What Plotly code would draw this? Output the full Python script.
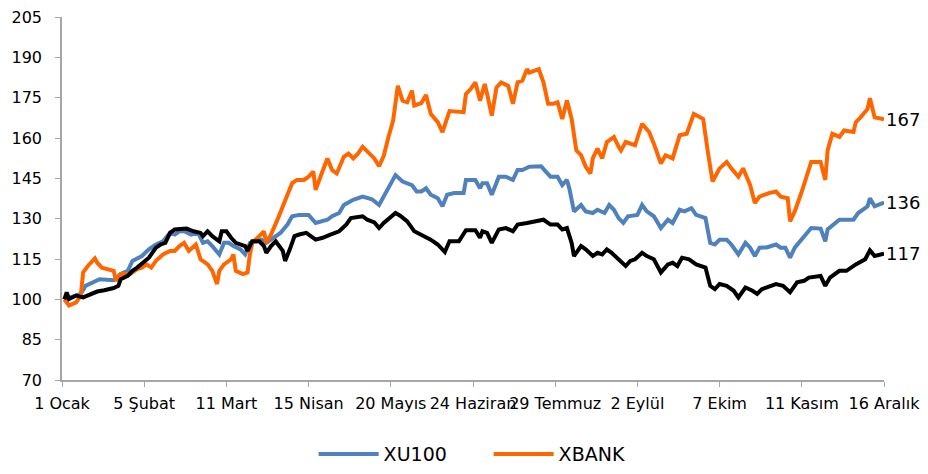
import plotly.graph_objects as go

# ---- data ----
xbank_dates = ["2024-01-02","2024-01-04","2024-01-07","2024-01-09","2024-01-10","2024-01-12","2024-01-15","2024-01-16","2024-01-18","2024-01-20",
               "2024-01-23","2024-01-24","2024-01-26","2024-01-30","2024-02-02","2024-02-04","2024-02-06","2024-02-08","2024-02-10","2024-02-13",
               "2024-02-16","2024-02-18","2024-02-20","2024-02-22","2024-02-24","2024-02-27","2024-02-29","2024-03-03","2024-03-05","2024-03-07",
               "2024-03-08","2024-03-10","2024-03-13","2024-03-14","2024-03-15","2024-03-18","2024-03-20","2024-03-21","2024-03-22","2024-03-25",
               "2024-03-27","2024-03-28","2024-03-30","2024-04-02","2024-04-04","2024-04-06","2024-04-08","2024-04-10","2024-04-13","2024-04-15",
               "2024-04-17","2024-04-18","2024-04-20","2024-04-21","2024-04-23","2024-04-25","2024-04-27","2024-04-30","2024-05-02","2024-05-04",
               "2024-05-06","2024-05-08","2024-05-10","2024-05-13","2024-05-15","2024-05-17","2024-05-19","2024-05-21","2024-05-22","2024-05-23",
               "2024-05-25","2024-05-27","2024-05-29","2024-05-30","2024-06-02","2024-06-04","2024-06-06","2024-06-09","2024-06-11","2024-06-13",
               "2024-06-14","2024-06-20","2024-06-21","2024-06-23","2024-06-25","2024-06-27","2024-06-29","2024-06-30","2024-07-02","2024-07-04",
               "2024-07-06","2024-07-09","2024-07-11","2024-07-13","2024-07-15","2024-07-17","2024-07-18","2024-07-20","2024-07-22","2024-07-24",
               "2024-07-26","2024-07-28","2024-07-30","2024-08-01","2024-08-03","2024-08-05","2024-08-07","2024-08-09","2024-08-11","2024-08-13",
               "2024-08-14","2024-08-16","2024-08-18","2024-08-20","2024-08-23","2024-08-25","2024-08-26","2024-08-28","2024-09-01","2024-09-04",
               "2024-09-07","2024-09-09","2024-09-12","2024-09-14","2024-09-17","2024-09-20","2024-09-23","2024-09-26","2024-09-30","2024-10-02",
               "2024-10-04","2024-10-07","2024-10-10","2024-10-12","2024-10-15","2024-10-17","2024-10-20","2024-10-22","2024-10-24","2024-10-28",
               "2024-10-31","2024-11-02","2024-11-05","2024-11-06","2024-11-08","2024-11-11","2024-11-13","2024-11-15","2024-11-19","2024-11-21",
               "2024-11-22","2024-11-24","2024-11-27","2024-11-29","2024-12-03","2024-12-04","2024-12-06","2024-12-09","2024-12-10","2024-12-12",
               "2024-12-16"]
xbank = [100, 97.7, 98.9, 101.4, 110, 112.4, 115.2, 113.6, 111.8, 111.2,
         110.6, 106.9, 109.4, 109.4, 111.2, 111.8, 113, 111.8, 114.3, 116.7,
         118, 118, 119.8, 121, 118, 120.4, 114.9, 113, 110.6, 105.7,
         110.6, 113, 114.9, 116.7, 110.6, 109.4, 110, 116.7, 121, 123.5,
         125.3, 121, 124.1, 130.2, 135, 138.9, 143.2, 144.4, 144.4, 145.6,
         147.5, 140.7, 145.5, 148, 152.4, 148.1, 146.8, 153, 154.2, 152.4,
         154.2, 156.7, 154.8, 152.4, 149.5, 153.4, 160.4, 166.5, 173, 179.4,
         173.9, 173.3, 177.6, 172.1, 173, 176, 169, 165.9, 162.2, 167.7,
         170, 169.6, 176.4, 178.2, 180.7, 173.9, 180.1, 176.4, 168.3, 178.8,
         180.7, 179.4, 172.7, 180.7, 181.3, 185.6, 184.3, 185, 185.6, 180.7,
         172.7, 172.7, 173.3, 167.1, 173.9, 167.1, 155.4, 153.6, 149.3, 146.8,
         152.4, 156.1, 152.4, 158.5, 160.4, 156.7, 155.4, 158.5, 157.3, 165.3,
         162.2, 157.9, 150.5, 153.6, 152.4, 161, 161.6, 169, 167.1, 154.8,
         143.8, 148.7, 151.1, 148.7, 145.6, 148.7, 142.5, 135.8, 138.2, 139.5,
         140.1, 138.2, 137.6, 129, 132.7, 140.1, 146.2, 151.1, 151.1, 144.4,
         155.4, 161.6, 160.4, 162.8, 162.2, 165.9, 167.7, 170.8, 174.8, 167.7,
         167]

xu100_dates = ["2024-01-02","2024-01-09","2024-01-11","2024-01-14","2024-01-17","2024-01-23","2024-01-26","2024-01-29","2024-01-31","2024-02-04",
               "2024-02-07","2024-02-10","2024-02-13","2024-02-16","2024-02-18","2024-02-20","2024-02-22","2024-02-25","2024-02-28","2024-03-01",
               "2024-03-03","2024-03-05","2024-03-08","2024-03-10","2024-03-12","2024-03-14","2024-03-17","2024-03-19","2024-03-21","2024-03-24",
               "2024-03-26","2024-03-28","2024-03-31","2024-04-03","2024-04-06","2024-04-08","2024-04-11","2024-04-15","2024-04-18","2024-04-21",
               "2024-04-23","2024-04-25","2024-04-28","2024-04-30","2024-05-04","2024-05-08","2024-05-12","2024-05-15","2024-05-17","2024-05-20",
               "2024-05-22","2024-05-25","2024-05-29","2024-05-31","2024-06-02","2024-06-04","2024-06-06","2024-06-09","2024-06-11","2024-06-13",
               "2024-06-16","2024-06-20","2024-06-21","2024-06-25","2024-06-27","2024-06-28","2024-06-30","2024-07-02","2024-07-05","2024-07-08",
               "2024-07-11","2024-07-13","2024-07-15","2024-07-18","2024-07-23","2024-07-25","2024-07-27","2024-07-30","2024-08-01","2024-08-03",
               "2024-08-04","2024-08-06","2024-08-09","2024-08-11","2024-08-14","2024-08-16","2024-08-19","2024-08-21","2024-08-23","2024-08-25",
               "2024-08-27","2024-08-29","2024-09-02","2024-09-04","2024-09-06","2024-09-09","2024-09-12","2024-09-15","2024-09-17","2024-09-20",
               "2024-09-22","2024-09-25","2024-09-27","2024-10-01","2024-10-03","2024-10-05","2024-10-07","2024-10-10","2024-10-12","2024-10-15",
               "2024-10-18","2024-10-20","2024-10-22","2024-10-24","2024-10-27","2024-10-31","2024-11-02","2024-11-04","2024-11-06","2024-11-08",
               "2024-11-11","2024-11-13","2024-11-15","2024-11-19","2024-11-21","2024-11-22","2024-11-27","2024-12-03","2024-12-05","2024-12-09",
               "2024-12-10","2024-12-12","2024-12-16"]
xu100 = [100, 102, 105, 106.3, 107.5, 107.1, 109.4, 110.6, 114.3, 116.1,
         118.6, 120.4, 121.6, 124.7, 124.1, 125.3, 125.3, 124.1, 124.7, 121,
         121.6, 119.8, 116.7, 121, 121, 119.8, 118.6, 116.7, 121, 121.6,
         122.2, 121, 122.9, 124.7, 127.8, 130.9, 131.4, 131.4, 128.4, 129,
         129.6, 130.9, 132.1, 135.1, 137, 138.2, 137.2, 135.1, 138.2, 142.5,
         146.2, 143.8, 142.5, 140.1, 140.1, 141.3, 138.9, 137.6, 134.6, 138.9,
         139.5, 139.5, 144.4, 144.4, 141.3, 143.2, 143.2, 138.9, 145.6, 145.6,
         144.4, 148.1, 148.1, 149.3, 149.5, 147.5, 145.6, 145.6, 142.5, 144.4,
         141.3, 132.7, 135.1, 132.7, 132.1, 133.3, 132.1, 135.1, 133.3, 130.2,
         128.4, 130.9, 131.4, 135.1, 132.7, 130.9, 126.5, 129.6, 128.4, 133.3,
         132.7, 133.9, 131.4, 130.2, 121, 120.4, 122.2, 122.2, 120.4, 116.7,
         121, 119.2, 116.1, 119.2, 119.3, 120.4, 119.2, 119.2, 115.5, 119.2,
         122.2, 124.1, 126.5, 126.3, 121.6, 126, 129.6, 129.6, 132.1, 134.6,
         137.6, 134.6, 136]

other_dates = ["2024-01-02","2024-01-03","2024-01-04","2024-01-07","2024-01-10","2024-01-13","2024-01-16","2024-01-19","2024-01-23","2024-01-25",
               "2024-01-26","2024-01-29","2024-01-31","2024-02-02","2024-02-05","2024-02-07","2024-02-10","2024-02-12","2024-02-14","2024-02-16",
               "2024-02-18","2024-02-21","2024-02-23","2024-02-26","2024-02-29","2024-03-01","2024-03-03","2024-03-05","2024-03-08","2024-03-09",
               "2024-03-11","2024-03-13","2024-03-15","2024-03-19","2024-03-20","2024-03-22","2024-03-25","2024-03-27","2024-03-28","2024-03-30",
               "2024-04-01","2024-04-04","2024-04-05","2024-04-07","2024-04-09","2024-04-11","2024-04-14","2024-04-18","2024-04-21","2024-04-24",
               "2024-04-28","2024-05-01","2024-05-03","2024-05-08","2024-05-10","2024-05-13","2024-05-15","2024-05-17","2024-05-20","2024-05-22",
               "2024-05-24","2024-05-27","2024-05-30","2024-06-03","2024-06-06","2024-06-09","2024-06-12","2024-06-14","2024-06-18","2024-06-21",
               "2024-06-25","2024-06-27","2024-06-28","2024-06-30","2024-07-02","2024-07-05","2024-07-08","2024-07-11","2024-07-13","2024-07-17",
               "2024-07-20","2024-07-24","2024-07-27","2024-07-30","2024-08-01","2024-08-03","2024-08-05","2024-08-06","2024-08-09","2024-08-11",
               "2024-08-14","2024-08-16","2024-08-18","2024-08-20","2024-08-22","2024-08-25","2024-08-28","2024-08-30","2024-09-01","2024-09-04",
               "2024-09-06","2024-09-09","2024-09-12","2024-09-15","2024-09-17","2024-09-19","2024-09-21","2024-09-24","2024-09-27","2024-10-01",
               "2024-10-03","2024-10-05","2024-10-07","2024-10-10","2024-10-13","2024-10-15","2024-10-18","2024-10-21","2024-10-23","2024-10-25",
               "2024-10-27","2024-10-31","2024-11-03","2024-11-06","2024-11-09","2024-11-12","2024-11-14","2024-11-19","2024-11-21","2024-11-23",
               "2024-11-27","2024-11-30","2024-12-04","2024-12-08","2024-12-10","2024-12-12","2024-12-16"]
other = [100, 102.6, 100.1, 101.4, 100.7, 101.7, 102.9, 103.4, 104.2, 105,
         107.5, 108.7, 110.6, 111.8, 114.3, 115.5, 119.2, 120.4, 121, 124.7,
         126, 126, 126.3, 125.3, 124.7, 123.5, 125.3, 123.5, 121.6, 125.3,
         125.3, 122.9, 121, 119.8, 118, 121.6, 121.6, 119.8, 117.3, 119.8,
         121.6, 118, 114.3, 118.6, 123.5, 124.1, 124.7, 122.2, 122.9, 124,
         125.3, 127.8, 130.2, 130.9, 129.6, 128.6, 126.5, 128.4, 130.9, 132.1,
         131.1, 129, 125.3, 123.5, 122.2, 120.4, 117.6, 121.6, 121.6, 125.7,
         125.7, 122.9, 125.3, 124.7, 121, 126, 126.5, 125.3, 127.8, 128.4,
         129, 129.6, 127.8, 127.8, 126, 126.5, 121, 116.1, 119.8, 118.6,
         116.1, 117.3, 116.7, 118.6, 117.3, 114.9, 112.4, 114.3, 114.9, 117.3,
         116.1, 114.9, 110, 113, 113.6, 112.4, 115.5, 114.9, 113, 111.8,
         105, 103.8, 105.7, 105, 103.2, 100.7, 104.4, 103.2, 102, 103.8,
         104.4, 105.7, 105, 102.6, 106.3, 106.9, 108.1, 108.7, 105, 108.1,
         110.6, 110.6, 113, 114.9, 118.2, 116.1, 117]

tick_dates = ["2024-01-01","2024-02-05","2024-03-11","2024-04-15","2024-05-20","2024-06-24",
              "2024-07-29","2024-09-02","2024-10-07","2024-11-11","2024-12-16"]
tick_labels = ["1 Ocak","5 Şubat","11 Mart","15 Nisan","20 Mayıs","24 Haziran",
               "29 Temmuz","2 Eylül","7 Ekim","11 Kasım","16 Aralık"]
y_ticks = [70, 85, 100, 115, 130, 145, 160, 175, 190, 205]

FONT = "DejaVu Sans"
AX = "#A6A6A6"

fig = go.Figure()
fig.add_trace(go.Scatter(x=xu100_dates, y=xu100, mode="lines", name="XU100",
                         line=dict(color="#4F81BD", width=4)))
fig.add_trace(go.Scatter(x=xbank_dates, y=xbank, mode="lines", name="XBANK",
                         line=dict(color="#FF6600", width=4)))
fig.add_trace(go.Scatter(x=other_dates, y=other, mode="lines", name="",
                         showlegend=False, line=dict(color="#000000", width=4)))

for d, v in [(xbank_dates[-1], xbank[-1]), (xu100_dates[-1], xu100[-1]), (other_dates[-1], other[-1])]:
    fig.add_annotation(x=d, y=v, text=str(round(v)), showarrow=False, xanchor="left",
                       yanchor="middle", xshift=0, font=dict(family=FONT, size=18, color="#000000"))

# the page body adds an 8px margin on each side, so the figure is sized to fit the 928x474 window
fig.update_layout(
    width=912, height=458,
    margin=dict(l=54, r=36, t=9, b=86, autoexpand=False),
    paper_bgcolor="white", plot_bgcolor="white",
    font=dict(family=FONT, size=16, color="#000000"),
    showlegend=True,
    legend=dict(orientation="h", x=0.519, xanchor="center", y=-0.204, yanchor="middle",
                font=dict(family=FONT, size=19), entrywidth=100, entrywidthmode="pixels",
                itemwidth=60, tracegroupgap=0),
)
fig.update_xaxes(type="date", range=["2024-01-01", "2024-12-16"],
                 tickmode="array", tickvals=tick_dates, ticktext=tick_labels, tickangle=0,
                 automargin=False, ticklabelstandoff=3, ticklabeloverflow="allow",
                 showline=True, linecolor=AX, linewidth=1.5, ticks="outside",
                 tickcolor=AX, ticklen=5, showgrid=False, zeroline=False)
fig.update_yaxes(range=[70, 205], tickmode="array", tickvals=y_ticks, automargin=False,
                 ticklabelstandoff=10, ticklabeloverflow="allow",
                 showline=True, linecolor=AX, linewidth=1.5, ticks="outside",
                 tickcolor=AX, ticklen=5, showgrid=False, zeroline=False)

fig.write_html("out.html")
